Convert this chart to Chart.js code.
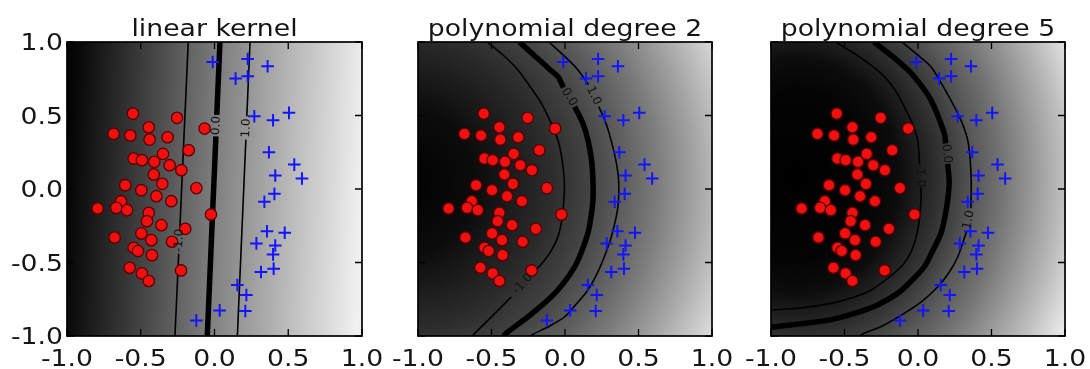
<!DOCTYPE html>
<html>
<head>
<meta charset="utf-8">
<script src="https://cdn.jsdelivr.net/npm/chart.js@4.4.1/dist/chart.umd.min.js"></script>
<style>
  html, body { margin: 0; padding: 0; background: #fff; }
  #wrap { position: relative; width: 1090px; height: 369px; }
  #wrap canvas { position: absolute; left: 0; top: 0; }
</style>
</head>
<body>
<div id="wrap">
  <canvas id="linear" width="1090" height="369"></canvas>
  <canvas id="poly2" width="1090" height="369"></canvas>
  <canvas id="poly5" width="1090" height="369"></canvas>
</div>
<script>
// training samples (same set in every panel)
const redX = [-0.553, -0.254, -0.446, -0.684, -0.571, -0.440, -0.318, -0.067, -0.175, -0.548, -0.492, -0.408, -0.349, -0.304,
  -0.225, -0.412, -0.354, -0.605, -0.496, -0.123, -0.394, -0.293, -0.792, -0.634, -0.666, -0.593, -0.446, -0.024,
  -0.458, -0.360, -0.198, -0.496, -0.677, -0.428, -0.288, -0.548, -0.519, -0.424, -0.575, -0.227, -0.492, -0.446];
const redY = [0.513, 0.484, 0.420, 0.375, 0.364, 0.336, 0.352, 0.411, 0.264, 0.207, 0.196, 0.185, 0.239, 0.162,
  0.128, 0.099, 0.035, 0.026, -0.008, 0.006, -0.049, -0.083, -0.133, -0.083, -0.128, -0.144, -0.162, -0.173,
  -0.219, -0.246, -0.271, -0.302, -0.330, -0.348, -0.359, -0.400, -0.422, -0.450, -0.536, -0.554, -0.574, -0.626];
const blueX = [-0.012, 0.225, 0.360, 0.143, 0.225, 0.270, 0.397, 0.505, 0.369, 0.541, 0.412, 0.593, 0.406,
  0.338, 0.356, 0.476, 0.284, 0.412, 0.397, 0.401, 0.315, 0.155, 0.216, 0.035, 0.209, -0.123];
const blueY = [0.864, 0.884, 0.835, 0.751, 0.767, 0.495, 0.468, 0.518, 0.250, 0.166, 0.092, 0.071, -0.033,
  -0.087, -0.287, -0.298, -0.370, -0.384, -0.445, -0.542, -0.565, -0.653, -0.721, -0.826, -0.830, -0.894];

const tickValues = [-1, -0.5, 0, 0.5, 1];
const tickLabels = ['-1.0', '-0.5', '0.0', '0.5', '1.0'];

const titles = ['linear kernel', 'polynomial degree 2', 'polynomial degree 5'];

// decision levels; each contour is two pieces, the level label sits in the gap
const levels = [-1, 0, 1];
const levelLabels = ['-1.0', '0.0', '1.0'];

const linearContours = [
  [[[-0.178, 1], [-0.2347, -0.26]], [[-0.2428, -0.44], [-0.268, -1]]],
  [[[0.037, 1], [0.0155, 0.505]], [[0.0095, 0.358], [-0.049, -1]]],
  [[[0.241, 1], [0.219, 0.494]], [[0.2126, 0.336], [0.155, -1]]]
];

const poly2Contours = [
  [[[-0.53, 1], [-0.42, 0.91], [-0.32, 0.81], [-0.24, 0.70], [-0.161, 0.583], [-0.10, 0.46], [-0.048, 0.333],
    [-0.02, 0.20], [-0.005, 0.06], [-0.005, -0.03], [-0.02, -0.2], [-0.048, -0.324], [-0.10, -0.43], [-0.16, -0.51], [-0.21, -0.56]],
   [[-0.365, -0.733], [-0.49, -0.86], [-0.614, -0.982], [-0.63, -1]]],
  [[[-0.31, 1], [-0.20, 0.90], [-0.10, 0.81], [-0.048, 0.764], [-0.01, 0.69]],
   [[0.066, 0.56], [0.12, 0.45], [0.156, 0.333], [0.18, 0.20], [0.19, 0.06], [0.19, -0.075], [0.175, -0.20], [0.156, -0.299],
    [0.115, -0.42], [0.066, -0.529], [-0.01, -0.64], [-0.093, -0.733], [-0.24, -0.86], [-0.388, -0.971], [-0.42, -1]]],
  [[[-0.11, 1], [0.00, 0.90], [0.088, 0.81], [0.16, 0.71]],
   [[0.23, 0.56], [0.27, 0.47], [0.30, 0.38], [0.345, 0.2], [0.365, 0.05], [0.36, -0.12], [0.33, -0.27], [0.293, -0.393],
    [0.23, -0.55], [0.156, -0.687], [0.07, -0.79], [-0.002, -0.869], [-0.10, -0.93], [-0.206, -0.982], [-0.24, -1]]]
];

const poly5Contours = [
  [[[-0.56, 1], [-0.40, 0.90], [-0.252, 0.787], [-0.16, 0.68], [-0.094, 0.56], [-0.04, 0.45], [-0.002, 0.333], [0.01, 0.17]],
   [[0.02, 0.01], [0.02, -0.075], [0.005, -0.24], [-0.025, -0.37], [-0.07, -0.47], [-0.138, -0.551], [-0.318, -0.687],
    [-0.45, -0.74], [-0.592, -0.778], [-0.80, -0.81], [-1, -0.823]]],
  [[[-0.30, 1], [-0.16, 0.89], [-0.046, 0.787], [0.088, 0.605], [0.179, 0.379], [0.188, 0.31]],
   [[0.202, 0.17], [0.212, 0.05], [0.205, -0.05], [0.185, -0.18], [0.156, -0.301], [0.10, -0.42], [0.043, -0.529],
    [-0.05, -0.63], [-0.138, -0.71], [-0.28, -0.79], [-0.433, -0.846], [-0.60, -0.89], [-0.773, -0.914], [-1, -0.94]]],
  [[[-0.11, 1], [0.00, 0.91], [0.088, 0.832], [0.17, 0.70], [0.247, 0.56], [0.30, 0.45], [0.338, 0.333], [0.355, 0.2],
    [0.362, 0.05], [0.36, -0.13]],
   [[0.33, -0.29], [0.271, -0.461], [0.21, -0.57], [0.135, -0.665], [0.02, -0.77], [-0.094, -0.846], [-0.24, -0.93],
    [-0.366, -0.982], [-0.40, -1]]]
];

// background shading: [position, gray]; radial ones also get a vertical stretch
const linearShade = [[-1, 4], [-0.5, 63], [0, 126], [0.5, 184], [1, 240]];
const poly2Center = [-1.1, 0.05];
const poly2Stretch = 1.0;
const poly2Shade = [[0, 0], [0.5, 12], [1.0, 44], [1.25, 66], [1.5, 94], [1.75, 127], [2.0, 165], [2.25, 206], [2.5, 250]];
const poly5Center = [-0.83, 0.09];
const poly5Stretch = 1.13;
const poly5Shade = [[0, 0], [0.5, 4], [0.7, 12], [0.85, 32], [1.05, 60], [1.2, 86], [1.4, 115], [1.6, 150], [1.8, 186], [2.0, 226], [2.2, 250]];

const FONT = '23px "DejaVu Sans"';
const TEXT_STRETCH = 1.16;
const TEXT_COLOR = '#151515';

const gray = (v) => `rgb(${v},${v},${v})`;
const toPoints = (xs, ys) => xs.map((v, i) => ({ x: v, y: ys[i] }));

const drawText = (ctx, text, x, y, align) => {
    ctx.save();
    ctx.translate(x, y);
    ctx.scale(TEXT_STRETCH, 1);
    ctx.textAlign = align;
    ctx.textBaseline = 'alphabetic';
    ctx.fillText(text, 0, 0);
    ctx.restore();
};

const linearBackground = (contours) => ({
    id: 'shade',
    beforeDatasetsDraw(chart) {
        const { ctx, chartArea: a, scales: { x, y } } = chart;
        // shade runs perpendicular to the zero contour
        const zero = contours[1];
        const top = zero[0][0], bottom = zero[1][zero[1].length - 1];
        const tilt = (top[0] - bottom[0]) / (top[1] - bottom[1]);
        const first = linearShade[0][0], last = linearShade[linearShade.length - 1][0];
        const g = ctx.createLinearGradient(
            x.getPixelForValue(first), y.getPixelForValue(tilt),
            x.getPixelForValue(last), y.getPixelForValue(-tilt));
        linearShade.forEach(([p, v]) => g.addColorStop((p - first) / (last - first), gray(v)));
        ctx.save();
        ctx.fillStyle = g;
        ctx.fillRect(a.left, a.top, a.width, a.height);
        ctx.restore();
    }
});

const radialBackground = (center, stretch, shade) => ({
    id: 'shade',
    beforeDatasetsDraw(chart) {
        const { ctx, chartArea: a, scales: { x, y } } = chart;
        const cx = x.getPixelForValue(center[0]), cy = y.getPixelForValue(center[1]);
        const rMax = shade[shade.length - 1][0];
        const rPix = x.getPixelForValue(center[0] + rMax) - cx;
        ctx.save();
        ctx.beginPath();
        ctx.rect(a.left, a.top, a.width, a.height);
        ctx.clip();
        ctx.translate(cx, cy);
        ctx.scale(1, stretch);
        const g = ctx.createRadialGradient(0, 0, 0, 0, 0, rPix);
        shade.forEach(([r, v]) => g.addColorStop(r / rMax, gray(v)));
        ctx.fillStyle = g;
        ctx.fillRect(a.left - cx, (a.top - cy) / stretch, a.width, a.height / stretch);
        ctx.restore();
    }
});

const decorations = (title, contours, showYLabels) => ({
    id: 'decorations',
    afterDraw(chart) {
        const { ctx, chartArea: a, scales: { x, y } } = chart;
        ctx.save();

        // contour level labels
        ctx.fillStyle = '#111';
        ctx.font = '12px "DejaVu Sans"';
        contours.forEach((segs, k) => {
            const p = segs[0][segs[0].length - 1], q = segs[1][0];
            const px = x.getPixelForValue(p[0]), py = y.getPixelForValue(p[1]);
            const qx = x.getPixelForValue(q[0]), qy = y.getPixelForValue(q[1]);
            let ang = Math.atan2(qy - py, qx - px);
            if (ang > Math.PI / 2) ang -= Math.PI;
            if (ang < -Math.PI / 2) ang += Math.PI;
            ctx.save();
            ctx.translate((px + qx) / 2, (py + qy) / 2);
            ctx.rotate(ang);
            ctx.textAlign = 'center';
            ctx.textBaseline = 'middle';
            ctx.fillText(levelLabels[k], 0, 0);
            ctx.restore();
        });

        // frame and inward ticks
        ctx.strokeStyle = '#000';
        ctx.lineWidth = 1.3;
        ctx.beginPath();
        tickValues.forEach((v) => {
            const px = x.getPixelForValue(v);
            ctx.moveTo(px, a.top); ctx.lineTo(px, a.top + 7);
            ctx.moveTo(px, a.bottom); ctx.lineTo(px, a.bottom - 7);
            const py = y.getPixelForValue(v);
            ctx.moveTo(a.left, py); ctx.lineTo(a.left + 7, py);
            ctx.moveTo(a.right, py); ctx.lineTo(a.right - 7, py);
        });
        ctx.stroke();
        ctx.lineWidth = 1.7;
        ctx.strokeRect(a.left, a.top, a.width, a.height);

        // tick labels and title
        ctx.fillStyle = TEXT_COLOR;
        ctx.font = FONT;
        tickValues.forEach((v, i) => {
            drawText(ctx, tickLabels[i], x.getPixelForValue(v), 366, 'center');
            if (showYLabels) drawText(ctx, tickLabels[i], a.left - 4, y.getPixelForValue(v) + 8, 'right');
        });
        drawText(ctx, title, (a.left + a.right) / 2, 36, 'center');
        ctx.restore();
    }
});

const buildChart = (id, frame, title, contours, background, showYLabels) => {
    const lines = [];
    contours.forEach((segs, k) => {
        segs.forEach((seg) => {
            lines.push({
                data: seg.map(([px, py]) => ({ x: px, y: py })),
                showLine: true,
                borderColor: '#000',
                borderWidth: levels[k] === 0 ? 5.5 : 1.6,
                pointRadius: 0,
                tension: 0.3,
                order: 2
            });
        });
    });

    return new Chart(document.getElementById(id), {
        type: 'scatter',
        data: {
            datasets: [
                {
                    data: toPoints(redX, redY),
                    pointStyle: 'circle',
                    pointRadius: 5.7,
                    backgroundColor: '#f01010',
                    borderColor: '#5a0000',
                    borderWidth: 1.3,
                    order: 0
                },
                {
                    data: toPoints(blueX, blueY),
                    pointStyle: 'cross',
                    pointRadius: 6.3,
                    borderColor: '#1414ff',
                    borderWidth: 2,
                    order: 1
                },
                ...lines
            ]
        },
        options: {
            responsive: false,
            animation: false,
            events: [],
            layout: { padding: { left: frame[0], right: 1090 - frame[1], top: 42, bottom: 369 - 336 } },
            scales: {
                x: { type: 'linear', min: -1, max: 1, display: false },
                y: { type: 'linear', min: -1, max: 1, display: false }
            },
            plugins: {
                legend: { display: false },
                tooltip: { enabled: false },
                title: { display: false }
            }
        },
        plugins: [background, decorations(title, contours, showYLabels)]
    });
};

buildChart('linear', [67, 362], titles[0], linearContours, linearBackground(linearContours), true);
buildChart('poly2', [418, 712], titles[1], poly2Contours, radialBackground(poly2Center, poly2Stretch, poly2Shade), false);
buildChart('poly5', [771, 1065], titles[2], poly5Contours, radialBackground(poly5Center, poly5Stretch, poly5Shade), false);
</script>
</body>
</html>
